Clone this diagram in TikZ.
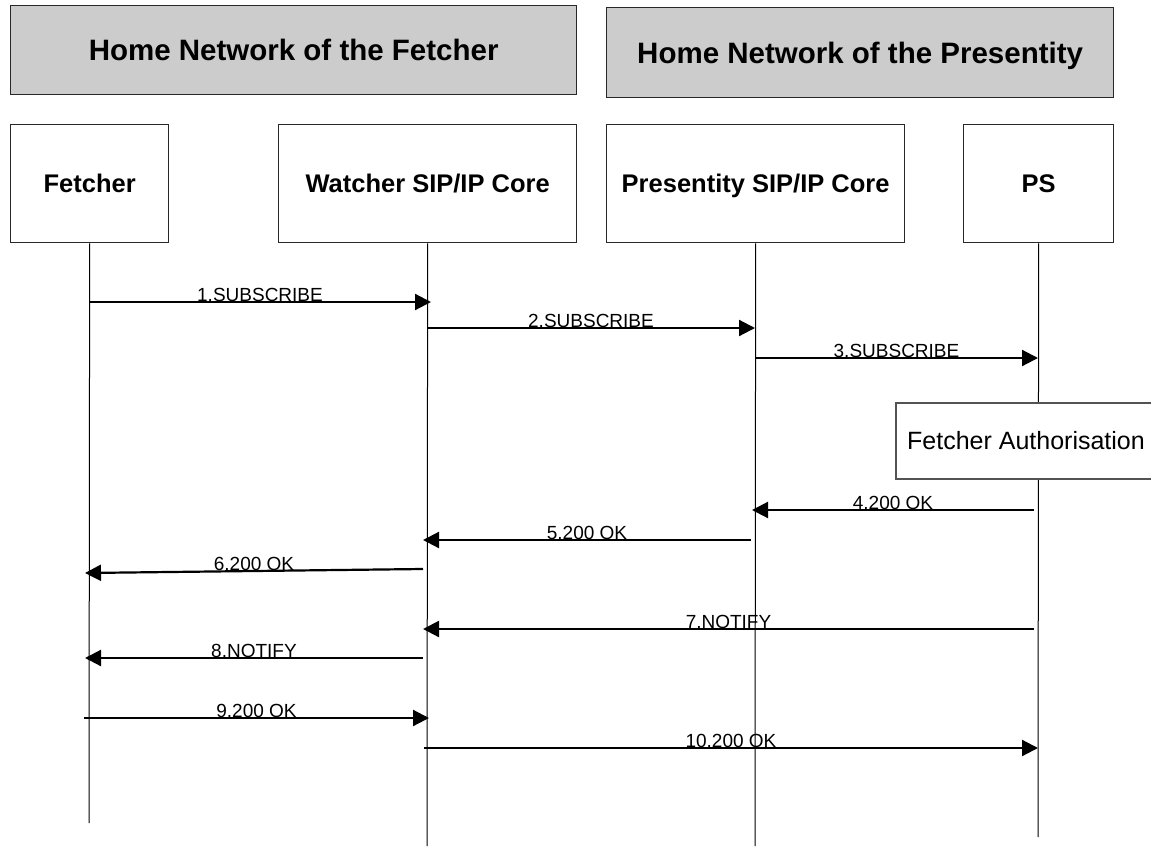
\documentclass[tikz,border=0pt]{standalone}
\usepackage{fontspec}
\setmainfont{Liberation Sans}
\usetikzlibrary{arrows.meta}
\definecolor{hdrgray}{RGB}{204,204,204}
\definecolor{boxline}{RGB}{40,40,40}
\begin{document}
\begin{tikzpicture}[x=1pt,y=-1pt,
  hdr/.style={draw=boxline, line width=1.3pt, fill=hdrgray, anchor=north west, inner sep=0pt,
    text height=21.1pt, text depth=0pt,
    font=\fontsize{29.5}{34}\selectfont\bfseries},
  entity/.style={draw=boxline, line width=1.3pt, fill=white, anchor=north west, inner sep=0pt,
    text height=18.3pt, text depth=0pt,
    minimum height=118pt, font=\fontsize{25.5}{30}\selectfont\bfseries},
  life/.style={draw=black, line width=1pt},
  msg/.style={draw=black, line width=2.2pt, -{Triangle[length=16pt,width=16pt]}},
  lbl/.style={midway, anchor=base, yshift=1pt, inner sep=0pt, font=\fontsize{19}{22}\selectfont},
  authframe/.style={draw=boxline!80, line width=1.2pt, fill=white}]
\useasboundingbox (0,0) rectangle (1151,846);

% header boxes
\node[hdr, minimum width=566pt, minimum height=89pt] (hnf) at (10,5) {Home Network of the Fetcher};
\node[hdr, minimum width=507pt, minimum height=90pt] (hnp) at (606,7) {Home Network of the Presentity};

% entities
\node[entity, minimum width=158pt] (fetcher) at (10,124) {Fetcher};
\node[entity, minimum width=298pt] (watcher) at (278,124) {Watcher SIP/IP Core};
\node[entity, minimum width=298pt] (pcore) at (606,124) {Presentity SIP/IP Core};
\node[entity, minimum width=150pt] (ps) at (963,124) {PS};

% lifeline ends
\coordinate (fEnd) at (89,823);
\coordinate (wEnd) at (427,846);
\coordinate (pEnd) at (755,846);
\coordinate (sEnd) at (1038,837);
\draw[life] (fetcher.south) -- (fEnd);
\draw[life] (watcher.south) -- (wEnd);
\draw[life] (pcore.south) -- (pEnd);
\draw[life] (ps.south) -- (sEnd);

% Fetcher Authorisation
\draw[authframe] (1152,403) -- (896,403) -- (896,479) -- (1152,479);
\node[anchor=west, inner sep=0pt, font=\fontsize{25}{30}\selectfont] (auth) at (907,441) {Fetcher Authorisation};

% message end points
\coordinate (m1s) at (89,302);   \coordinate (m1e) at (431,302);
\coordinate (m2s) at (427,328);  \coordinate (m2e) at (755,328);
\coordinate (m3s) at (755,358);  \coordinate (m3e) at (1038,358);
\coordinate (m4s) at (1034,510); \coordinate (m4e) at (752,510);
\coordinate (m5s) at (751,540);  \coordinate (m5e) at (423,540);
\coordinate (m6s) at (423,569);  \coordinate (m6e) at (85,573);
\coordinate (m7s) at (1034,629); \coordinate (m7e) at (423,629);
\coordinate (m8s) at (423,658);  \coordinate (m8e) at (85,658);
\coordinate (m9s) at (84,718);   \coordinate (m9e) at (429,718);
\coordinate (m10s) at (424,748); \coordinate (m10e) at (1038,748);

\draw[msg] (m1s) -- (m1e) node[lbl] {1.SUBSCRIBE};
\draw[msg] (m2s) -- (m2e) node[lbl] {2.SUBSCRIBE};
\draw[msg] (m3s) -- (m3e) node[lbl] {3.SUBSCRIBE};
\draw[msg] (m4s) -- (m4e) node[lbl] {4.200 OK};
\draw[msg] (m5s) -- (m5e) node[lbl] {5.200 OK};
\draw[msg] (m6s) -- (m6e) node[lbl] {6.200 OK};
\draw[msg] (m7s) -- (m7e) node[lbl] {7.NOTIFY};
\draw[msg] (m8s) -- (m8e) node[lbl] {8.NOTIFY};
\draw[msg] (m9s) -- (m9e) node[lbl] {9.200 OK};
\draw[msg] (m10s) -- (m10e) node[lbl] {10.200 OK};
\end{tikzpicture}
\end{document}
